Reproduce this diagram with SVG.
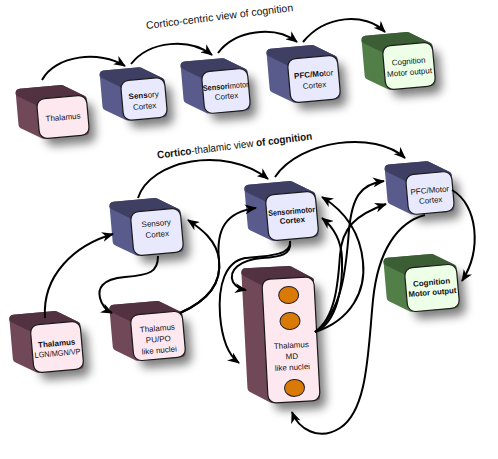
<svg xmlns="http://www.w3.org/2000/svg" width="498" height="459" viewBox="0 0 498 459">
<defs>
<filter id="sh" x="-60%" y="-60%" width="220%" height="220%"><feGaussianBlur stdDeviation="5"/></filter>
<marker id="ah" viewBox="0 0 12 10" refX="11" refY="5" markerWidth="12" markerHeight="10" markerUnits="userSpaceOnUse" orient="auto"><path d="M0,0 L12,5 L0,10 L3.5,5 Z" fill="#000"/></marker>
<style>
.c{fill:none;stroke:#000;stroke-width:2;marker-end:url(#ah)}
.sd{fill:#000;opacity:.5;filter:url(#sh)}
.side,.top{stroke-width:8;stroke-linejoin:round}
.face{stroke:#1a1a1a;stroke-width:1.2}
.thal .side{fill:#704858;stroke:#704858}.thal .top{fill:#523140;stroke:#523140}.thal .face{fill:#fde8f0}
.ctx .side{fill:#585b8c;stroke:#585b8c}.ctx .top{fill:#3e3f62;stroke:#3e3f62}.ctx .face{fill:#e9e9fd}
.grn .side{fill:#527e48;stroke:#527e48}.grn .top{fill:#3b5e35;stroke:#3b5e35}.grn .face{fill:#eeffe8}
text{font-family:"Liberation Sans",Arial,sans-serif;font-size:8px;text-anchor:middle;fill:#111}
.b{font-weight:bold}
.ttl{font-size:10.5px}
.dot{fill:#d97a06;stroke:#222;stroke-width:1}
</style>
</defs>

<text class="ttl" transform="translate(220,20) rotate(-7)" textLength="148" lengthAdjust="spacingAndGlyphs">Cortico-centric view of cognition</text>
<text class="ttl" transform="translate(235,149) rotate(-7)" textLength="156" lengthAdjust="spacingAndGlyphs"><tspan class="b">Cortico</tspan>-thalamic view <tspan class="b">of cognition</tspan></text>

<g id="t-thalamus" class="thal" transform="translate(63,117) rotate(-5)">
<rect class="sd" x="-19" y="-12" width="50" height="40" rx="8"/>
<polygon class="side" points="-41,-28 1,-28 21,-16 21,16 -21,16 -41,4"/>
<polygon class="top" points="-41,-28 1,-28 21,-16 -21,-16"/>
<rect class="face" x="-25" y="-20" width="50" height="40" rx="8"/>
<text y="3">Thalamus</text>
</g>

<g id="t-sensory" class="ctx" transform="translate(144,99) rotate(-5)">
<rect class="sd" x="-16" y="-12" width="44" height="40" rx="8"/>
<polygon class="side" points="-38,-28 -2,-28 18,-16 18,16 -18,16 -38,4"/>
<polygon class="top" points="-38,-28 -2,-28 18,-16 -18,-16"/>
<rect class="face" x="-22" y="-20" width="44" height="40" rx="8"/>
<text y="-1"><tspan class="b">Sens</tspan>ory</text>
<text y="10">Cortex</text>
</g>

<g id="t-sensorimotor" class="ctx" transform="translate(226,91) rotate(-5)">
<rect class="sd" x="-17" y="-13" width="46" height="42" rx="8"/>
<polygon class="side" points="-39,-29 -1,-29 19,-17 19,17 -19,17 -39,5"/>
<polygon class="top" points="-39,-29 -1,-29 19,-17 -19,-17"/>
<rect class="face" x="-23" y="-21" width="46" height="42" rx="8"/>
<text y="-2" textLength="46" lengthAdjust="spacingAndGlyphs"><tspan class="b">Sensori</tspan>motor</text>
<text y="8">Cortex</text>
</g>

<g id="t-pfc" class="ctx" transform="translate(314,79) rotate(-5)">
<rect class="sd" x="-19" y="-14" width="50" height="44" rx="8"/>
<polygon class="side" points="-41,-30 1,-30 21,-18 21,18 -21,18 -41,6"/>
<polygon class="top" points="-41,-30 1,-30 21,-18 -21,-18"/>
<rect class="face" x="-25" y="-22" width="50" height="44" rx="8"/>
<text y="-2"><tspan class="b">PFC/Mo</tspan>tor</text>
<text y="9">Cortex</text>
</g>

<g id="t-cognition" class="grn" transform="translate(409,66) rotate(-5)">
<rect class="sd" x="-19" y="-14" width="50" height="44" rx="8"/>
<polygon class="side" points="-41,-30 1,-30 21,-18 21,18 -21,18 -41,6"/>
<polygon class="top" points="-41,-30 1,-30 21,-18 -21,-18"/>
<rect class="face" x="-25" y="-22" width="50" height="44" rx="8"/>
<text y="-2">Cognition</text>
<text y="9" textLength="45" lengthAdjust="spacingAndGlyphs">Motor output</text>
</g>

<g id="b-sensory" class="ctx" transform="translate(157,232) rotate(-5)">
<rect class="sd" x="-19" y="-14" width="50" height="44" rx="8"/>
<polygon class="side" points="-41,-30 1,-30 21,-18 21,18 -21,18 -41,6"/>
<polygon class="top" points="-41,-30 1,-30 21,-18 -21,-18"/>
<rect class="face" x="-25" y="-22" width="50" height="44" rx="8"/>
<text y="-6">Sensory</text>
<text y="5">Cortex</text>
</g>

<g id="b-sensorimotor" class="ctx" transform="translate(292,216) rotate(-5)">
<rect class="sd" x="-19" y="-15" width="50" height="46" rx="8"/>
<polygon class="side" points="-41,-31 1,-31 21,-19 21,19 -21,19 -41,7"/>
<polygon class="top" points="-41,-31 1,-31 21,-19 -21,-19"/>
<rect class="face" x="-25" y="-23" width="50" height="46" rx="8"/>
<text y="-2" style="font-weight:600" textLength="47" lengthAdjust="spacingAndGlyphs">Sensorimotor</text>
<text y="7" style="font-weight:600">Cortex</text>
</g>

<g id="b-pfc" class="ctx" transform="translate(430,193) rotate(-5)">
<rect class="sd" x="-17" y="-12" width="46" height="40" rx="8"/>
<polygon class="side" points="-39,-28 -1,-28 19,-16 19,16 -19,16 -39,4"/>
<polygon class="top" points="-39,-28 -1,-28 19,-16 -19,-16"/>
<rect class="face" x="-23" y="-20" width="46" height="40" rx="8"/>
<text y="0">PFC/Motor</text>
<text y="10">Cortex</text>
</g>

<g id="b-cognition" class="grn" transform="translate(432,288) rotate(-5)">
<rect class="sd" x="-20" y="-14" width="52" height="44" rx="8"/>
<polygon class="side" points="-42,-30 2,-30 22,-18 22,18 -22,18 -42,6"/>
<polygon class="top" points="-42,-30 2,-30 22,-18 -22,-18"/>
<rect class="face" x="-26" y="-22" width="52" height="44" rx="8"/>
<text y="-3" class="b">Cognition</text>
<text y="7" class="b" textLength="48" lengthAdjust="spacingAndGlyphs">Motor output</text>
</g>

<g id="b-thal-lgn" class="thal" transform="translate(57,347) rotate(-5)">
<rect class="sd" x="-19" y="-16" width="50" height="48" rx="8"/>
<polygon class="side" points="-41,-32 1,-32 21,-20 21,20 -21,20 -41,8"/>
<polygon class="top" points="-41,-32 1,-32 21,-20 -21,-20"/>
<rect class="face" x="-25" y="-24" width="50" height="48" rx="8"/>
<text y="-1" class="b">Thalamus</text>
<text y="9" textLength="46" lengthAdjust="spacingAndGlyphs">LGN/MGN/VP</text>
</g>

<g id="b-thal-pupo" class="thal" transform="translate(158,336) rotate(-5)">
<rect class="sd" x="-20" y="-15" width="52" height="46" rx="8"/>
<polygon class="side" points="-42,-31 2,-31 22,-19 22,19 -22,19 -42,7"/>
<polygon class="top" points="-42,-31 2,-31 22,-19 -22,-19"/>
<rect class="face" x="-26" y="-23" width="52" height="46" rx="8"/>
<text y="-5">Thalamus</text>
<text y="6">PU/PO</text>
<text y="17">like nuclei</text>
</g>

<g id="b-thal-md" class="thal" transform="translate(291,340) rotate(-3)">
<rect class="sd" x="-20" y="-54" width="52" height="124" rx="8"/>
<polygon class="side" points="-42,-70 2,-70 22,-58 22,58 -22,58 -42,46"/>
<polygon class="top" points="-42,-70 2,-70 22,-58 -22,-58"/>
<rect class="face" x="-26" y="-62" width="52" height="124" rx="8"/>
<ellipse class="dot" cx="0" cy="-45" rx="10" ry="8.5"/>
<ellipse class="dot" cx="0" cy="-19" rx="10" ry="8.5"/>
<ellipse class="dot" cx="1" cy="48" rx="10" ry="8.5"/>
<text y="8">Thalamus</text>
<text y="19">MD</text>
<text y="30">like nuclei</text>
</g>

<g id="connectors">
<path class="c" d="M42,80 C55,55 100,50 125,66"/>
<path class="c" d="M131,64 C150,40 190,38 212,55"/>
<path class="c" d="M218,53 C235,30 275,25 297,42"/>
<path class="c" d="M303,42 C325,15 365,12 385,32"/>

<path class="c" d="M45,318 C42,275 75,245 113,234"/>
<path class="c" d="M158,256 C158,272 150,275 125,277 C100,279 98,290 100,298 C102,306 106,310 112,313"/>
<path class="c" d="M180,313 C205,302 222,285 219,260 C217,240 200,228 188,220"/>
<path class="c" d="M180,313 C205,302 222,285 219,260 C216,230 225,212 256,208"/>
<path class="c" d="M138,198 C150,160 225,145 268,179"/>
<path class="c" d="M275,177 C300,140 375,130 405,158"/>
<path class="c" d="M290,241 C292,255 280,257 262,258 C240,260 228,270 233,282 C236,287 240,289 246,290"/>
<path class="c" d="M290,241 C292,255 270,256 245,258 C225,262 218,285 220,315 C222,340 228,355 239,363"/>
<path class="c" d="M315,332 C338,322 343,285 342,258 C341,238 332,226 322,218"/>
<path class="c" d="M315,332 C352,320 366,290 363,262 C360,230 343,210 322,197"/>
<path class="c" d="M315,332 C335,318 338,285 340,255 C342,228 355,215 386,204"/>
<path class="c" d="M315,332 C342,312 346,270 349,230 C352,198 360,184 384,181"/>
<path class="c" d="M452,190 C478,205 482,250 462,281"/>
<path class="c" d="M425,215 C398,222 378,250 373,300 C368,350 368,410 340,428 C318,442 298,428 292,412"/>
</g>
</svg>
